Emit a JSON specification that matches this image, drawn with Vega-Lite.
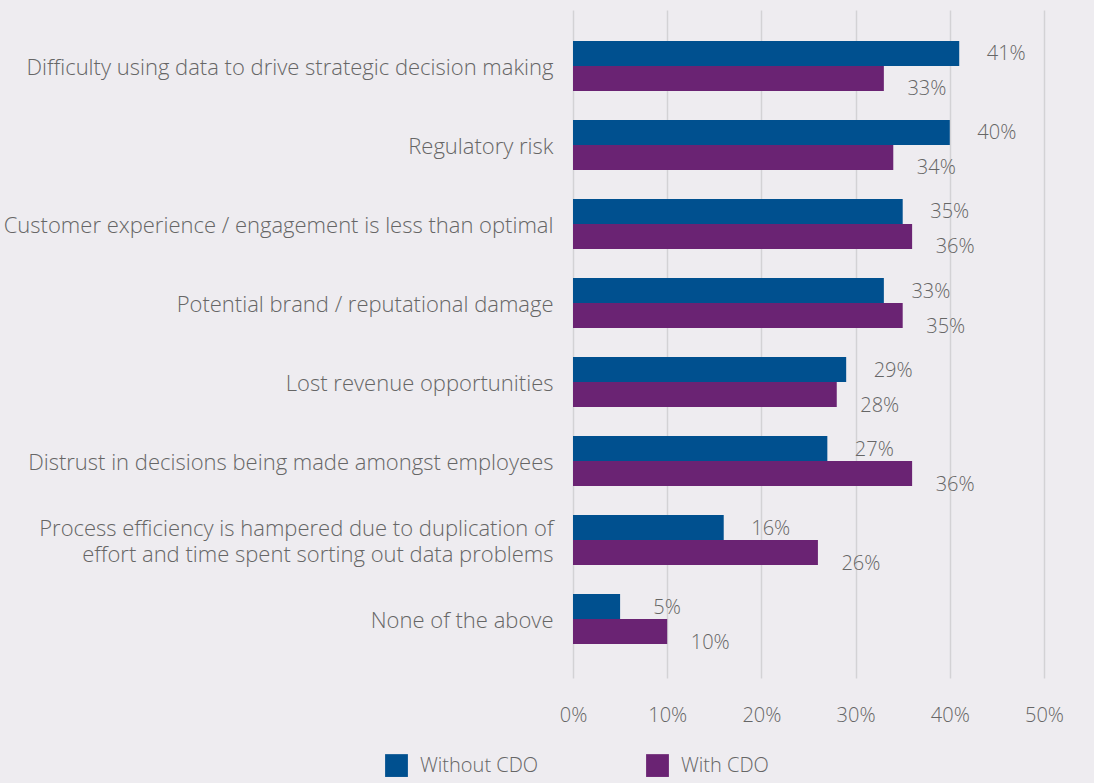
{
  "$schema": "https://vega.github.io/schema/vega-lite/v6.json",
  "autosize": {"type": "none"},
  "padding": {"left": 573, "top": 10, "right": 50, "bottom": 105},
  "width": 471,
  "height": 668,
  "background": "#eeecf0",
  "config": {
    "view": {"stroke": null},
    "font": "Open Sans",
    "axis": {"labelFont": "Open Sans", "labelColor": "#666666", "labelFontWeight": 300},
    "legend": {"labelFont": "Open Sans", "labelFontWeight": 300}
  },
  "data": {
    "values": [
      {"category": "Difficulty using data to drive strategic decision making", "series": "Without CDO", "value": 41},
      {"category": "Difficulty using data to drive strategic decision making", "series": "With CDO", "value": 33},
      {"category": "Regulatory risk", "series": "Without CDO", "value": 40},
      {"category": "Regulatory risk", "series": "With CDO", "value": 34},
      {"category": "Customer experience / engagement is less than optimal", "series": "Without CDO", "value": 35},
      {"category": "Customer experience / engagement is less than optimal", "series": "With CDO", "value": 36},
      {"category": "Potential brand / reputational damage", "series": "Without CDO", "value": 33},
      {"category": "Potential brand / reputational damage", "series": "With CDO", "value": 35},
      {"category": "Lost revenue opportunities", "series": "Without CDO", "value": 29},
      {"category": "Lost revenue opportunities", "series": "With CDO", "value": 28},
      {"category": "Distrust in decisions being made amongst employees", "series": "Without CDO", "value": 27},
      {"category": "Distrust in decisions being made amongst employees", "series": "With CDO", "value": 36},
      {"category": "Process efficiency is hampered due to duplication of effort and time spent sorting out data problems", "series": "Without CDO", "value": 16},
      {"category": "Process efficiency is hampered due to duplication of effort and time spent sorting out data problems", "series": "With CDO", "value": 26},
      {"category": "None of the above", "series": "Without CDO", "value": 5},
      {"category": "None of the above", "series": "With CDO", "value": 10}
    ]
  },
  "encoding": {
    "y": {
      "field": "category",
      "type": "nominal",
      "sort": null,
      "scale": {"paddingInner": 0.367, "paddingOuter": 0.411, "align": 0.477},
      "axis": {
        "title": null,
        "domain": false,
        "ticks": false,
        "labelFontSize": 22,
        "labelPadding": 20,
        "labelLimit": 600,
        "labelLineHeight": 26,
        "labelOffset": {"condition": {"test": "length(datum.label) > 60", "value": -11}, "value": 2},
        "labelExpr": "datum.label == 'Process efficiency is hampered due to duplication of effort and time spent sorting out data problems' ? ['Process efficiency is hampered due to duplication of', 'effort and time spent sorting out data problems'] : datum.label"
      }
    },
    "yOffset": {
      "field": "series",
      "type": "nominal",
      "sort": ["Without CDO", "With CDO"],
      "scale": {"paddingInner": 0, "paddingOuter": 0}
    },
    "x": {
      "field": "value",
      "type": "quantitative",
      "scale": {"domain": [0, 50], "nice": false},
      "axis": {
        "title": null,
        "domain": false,
        "ticks": false,
        "values": [0, 10, 20, 30, 40, 50],
        "labelExpr": "datum.value + '%'",
        "labelFlush": false,
        "labelFontSize": 20,
        "labelPadding": 27,
        "grid": true,
        "gridColor": "#d3d2d5",
        "gridWidth": 1.5
      }
    }
  },
  "layer": [
    {
      "mark": {"type": "bar", "x": 2},
      "encoding": {
        "color": {
          "field": "series",
          "type": "nominal",
          "sort": ["Without CDO", "With CDO"],
          "scale": {"domain": ["Without CDO", "With CDO"], "range": ["#00508f", "#6a2373"]},
          "legend": {
            "title": null,
            "orient": "none",
            "legendX": -188,
            "legendY": 744,
            "direction": "horizontal",
            "symbolType": "square",
            "symbolSize": 520,
            "symbolStrokeWidth": 0,
            "labelFontSize": 20,
            "labelColor": "#666666",
            "labelOffset": 12,
            "columnPadding": 107,
            "labelLimit": 300
          }
        }
      }
    },
    {
      "transform": [{"filter": "datum.series == 'Without CDO'"}, {"calculate": "datum.value + '%'", "as": "label"}],
      "mark": {"type": "text", "align": "center", "baseline": "middle", "dx": 47, "dy": 1, "fontSize": 20, "fontWeight": 300, "color": "#666666"},
      "encoding": {"text": {"field": "label", "type": "nominal"}, "detail": {"field": "series"}}
    },
    {
      "transform": [{"filter": "datum.series == 'With CDO'"}, {"calculate": "datum.value + '%'", "as": "label"}],
      "mark": {"type": "text", "align": "center", "baseline": "middle", "dx": 43, "dy": 11, "fontSize": 20, "fontWeight": 300, "color": "#666666"},
      "encoding": {"text": {"field": "label", "type": "nominal"}, "detail": {"field": "series"}}
    }
  ]
}
